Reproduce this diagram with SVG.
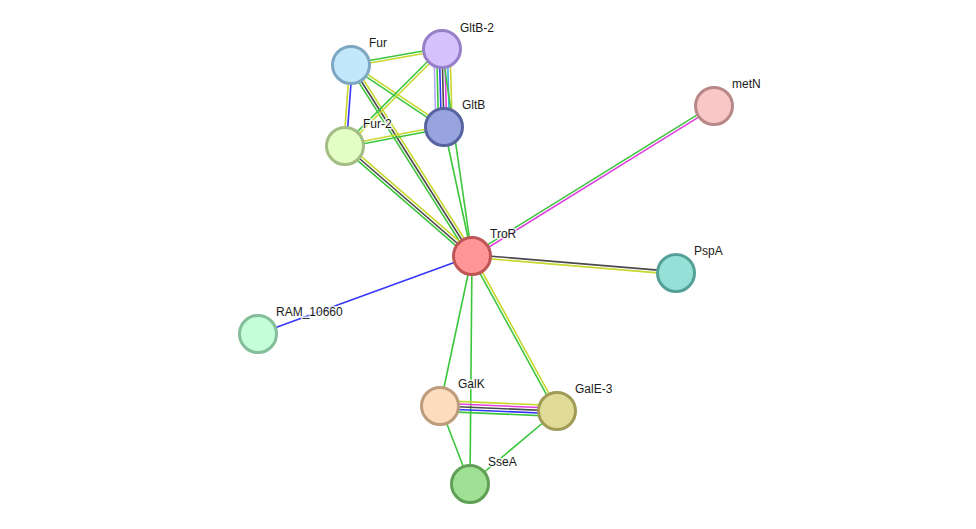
<svg xmlns="http://www.w3.org/2000/svg" width="976" height="529" viewBox="0 0 976 529">
<style>
.e line{stroke-width:1.6;fill:none}
.g{stroke:#3cc63c}.y{stroke:#c6d82c}.k{stroke:#4a4a4a}.b{stroke:#3636ff}.m{stroke:#e040e0}.c{stroke:#40b4e4}.h{stroke:#b2a8ff}
.n circle{stroke-width:3}
.n text{font-family:"Liberation Sans",Arial,sans-serif;font-size:12px;fill:#1a1a1a;stroke:#fff;stroke-width:3;stroke-opacity:.8;paint-order:stroke;stroke-linejoin:round}
</style>
<rect width="976" height="529" fill="#fff"/>
<g id="connectors" class="e">
  <!-- Fur - GltB-2 -->
  <g transform="translate(351,65) rotate(-9.97)"><line class="g" x1="0" y1="-1.35" x2="92.4" y2="-1.35"/><line class="y" x1="0" y1="1.35" x2="92.4" y2="1.35"/></g>
  <!-- Fur - GltB -->
  <g transform="translate(351,65) rotate(33.69)"><line class="y" x1="0" y1="-1.35" x2="111.8" y2="-1.35"/><line class="g" x1="0" y1="1.35" x2="111.8" y2="1.35"/></g>
  <!-- Fur - Fur-2 -->
  <g transform="translate(351,65) rotate(94.24)"><line class="b" x1="0" y1="-1.35" x2="81.2" y2="-1.35"/><line class="y" x1="0" y1="1.35" x2="81.2" y2="1.35"/></g>
  <!-- Fur - TroR -->
  <g transform="translate(351,65) rotate(57.64)"><line class="y" x1="0" y1="-2.7" x2="226.1" y2="-2.7"/><line class="k" x1="0" y1="0" x2="226.1" y2="0"/><line class="g" x1="0" y1="2.7" x2="226.1" y2="2.7"/></g>
  <!-- GltB-2 - Fur-2 -->
  <g transform="translate(442,49) rotate(135)"><line class="y" x1="0" y1="-1.35" x2="137.2" y2="-1.35"/><line class="g" x1="0" y1="1.35" x2="137.2" y2="1.35"/></g>
  <!-- GltB-2 - GltB -->
  <g transform="translate(442,49) rotate(88.53)">
    <line class="h" x1="0" y1="8.1" x2="78" y2="8.1"/>
    <line class="g" x1="0" y1="5.4" x2="78" y2="5.4"/>
    <line class="b" x1="0" y1="2.7" x2="78" y2="2.7"/>
    <line class="k" x1="0" y1="0" x2="78" y2="0"/>
    <line class="m" x1="0" y1="-2.7" x2="78" y2="-2.7"/>
    <line class="c" x1="0" y1="-5.4" x2="78" y2="-5.4"/>
    <line class="y" x1="0" y1="-8.1" x2="78" y2="-8.1"/>
  </g>
  <!-- Fur-2 - GltB -->
  <g transform="translate(345,146) rotate(-10.86)"><line class="y" x1="0" y1="-1.35" x2="100.8" y2="-1.35"/><line class="g" x1="0" y1="1.35" x2="100.8" y2="1.35"/></g>
  <!-- Fur-2 - TroR -->
  <g transform="translate(345,146) rotate(40.9)"><line class="y" x1="0" y1="-2.7" x2="168" y2="-2.7"/><line class="k" x1="0" y1="0" x2="168" y2="0"/><line class="g" x1="0" y1="2.7" x2="168" y2="2.7"/></g>
  <!-- GltB - TroR, GltB-2 - TroR -->
  <line class="g" x1="444" y1="127" x2="472" y2="256"/>
  <line class="g" x1="442" y1="49" x2="472" y2="256"/>
  <!-- TroR - metN -->
  <g transform="translate(472,256) rotate(-31.79)"><line class="g" x1="0" y1="-1.35" x2="284.7" y2="-1.35"/><line class="m" x1="0" y1="1.35" x2="284.7" y2="1.35"/></g>
  <!-- TroR - PspA -->
  <g transform="translate(472,256) rotate(4.76)"><line class="k" x1="0" y1="-1.35" x2="204.7" y2="-1.35"/><line class="y" x1="0" y1="1.35" x2="204.7" y2="1.35"/></g>
  <!-- TroR - RAM_10660 -->
  <line class="b" x1="472" y1="256" x2="258" y2="334"/>
  <!-- TroR - GalK, TroR - SseA -->
  <line class="g" x1="472" y1="256" x2="440" y2="406"/>
  <line class="g" x1="472" y1="256" x2="470" y2="484"/>
  <!-- TroR - GalE-3 -->
  <g transform="translate(472,256) rotate(61.26)"><line class="y" x1="0" y1="-1.35" x2="176.8" y2="-1.35"/><line class="g" x1="0" y1="1.35" x2="176.8" y2="1.35"/></g>
  <!-- GalK - GalE-3 -->
  <g transform="translate(440,406) rotate(2.45)">
    <line class="y" x1="0" y1="-5.4" x2="117.1" y2="-5.4"/>
    <line class="m" x1="0" y1="-2.7" x2="117.1" y2="-2.7"/>
    <line class="k" x1="0" y1="0" x2="117.1" y2="0"/>
    <line class="b" x1="0" y1="2.7" x2="117.1" y2="2.7"/>
    <line class="g" x1="0" y1="5.4" x2="117.1" y2="5.4"/>
  </g>
  <!-- GalK - SseA, GalE-3 - SseA -->
  <line class="g" x1="440" y1="406" x2="470" y2="484"/>
  <line class="g" x1="557" y1="411" x2="470" y2="484"/>
</g>
<g id="Fur" class="n"><circle cx="351" cy="65" r="18.5" fill="#c2e8fc" stroke="#7ea8c2"/><text x="369" y="47">Fur</text></g>
<g id="GltB-2" class="n"><circle cx="442" cy="49" r="18.5" fill="#d5c2fd" stroke="#9880c8"/><text x="460" y="32">GltB-2</text></g>
<g id="GltB" class="n"><circle cx="444" cy="127" r="18.5" fill="#98a4e0" stroke="#5864a0"/><text x="462" y="109">GltB</text></g>
<g id="Fur-2" class="n"><circle cx="345" cy="146" r="18.5" fill="#e3fdc5" stroke="#a3bd85"/><text x="363" y="128">Fur-2</text></g>
<g id="metN" class="n"><circle cx="714" cy="106" r="18.5" fill="#f8c7c7" stroke="#b88787"/><text x="732" y="88">metN</text></g>
<g id="TroR" class="n"><circle cx="472" cy="256" r="18.5" fill="#ff9595" stroke="#c05555"/><text x="490" y="238">TroR</text></g>
<g id="PspA" class="n"><circle cx="676" cy="273" r="18.5" fill="#95e1d7" stroke="#55a197"/><text x="694" y="255">PspA</text></g>
<g id="RAM_10660" class="n"><circle cx="258" cy="334" r="18.5" fill="#c3fdd9" stroke="#83bd99"/><text x="276" y="316">RAM_10660</text></g>
<g id="GalK" class="n"><circle cx="440" cy="406" r="18.5" fill="#fddcbd" stroke="#bd9c7d"/><text x="458" y="388">GalK</text></g>
<g id="GalE-3" class="n"><circle cx="557" cy="411" r="18.5" fill="#e0dc98" stroke="#a09c58"/><text x="575" y="393">GalE-3</text></g>
<g id="SseA" class="n"><circle cx="470" cy="484" r="18.5" fill="#9fe095" stroke="#5fa055"/><text x="488" y="466">SseA</text></g>
</svg>
